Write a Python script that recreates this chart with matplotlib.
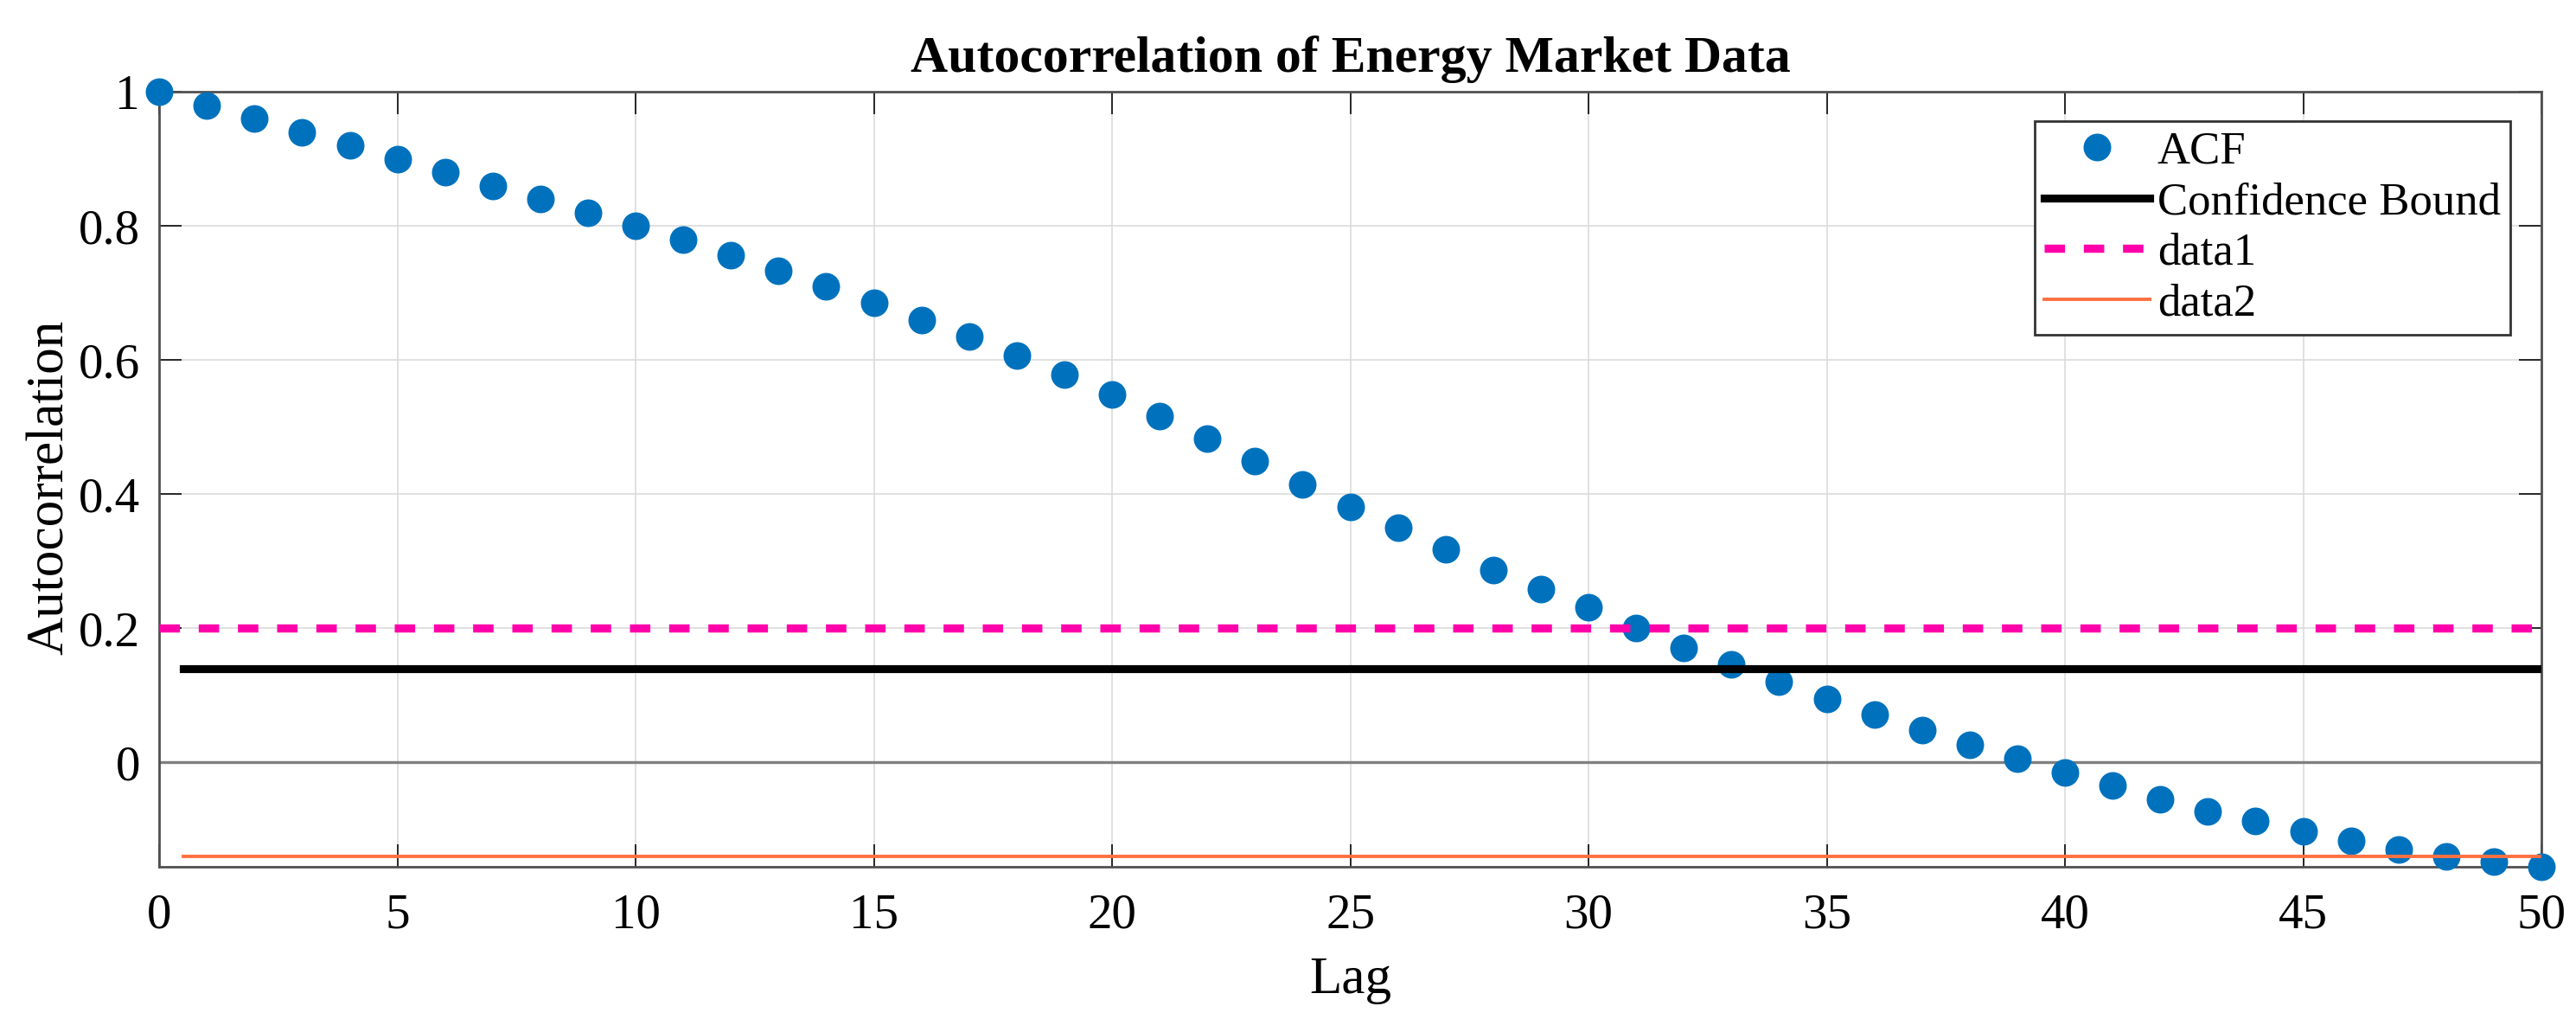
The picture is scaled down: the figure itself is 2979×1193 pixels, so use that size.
import numpy as np
import matplotlib
matplotlib.use("Agg")
import matplotlib.pyplot as plt
from matplotlib.ticker import FormatStrFormatter

# acf values
lags = np.arange(0, 51)
acf = [1.0, 0.98, 0.96, 0.94, 0.92, 0.90, 0.88, 0.86, 0.84, 0.82,
       0.80, 0.78, 0.757, 0.733, 0.71, 0.685, 0.66, 0.635, 0.607, 0.578,
       0.548, 0.517, 0.483, 0.449, 0.414, 0.381, 0.35, 0.318, 0.287, 0.258,
       0.231, 0.200, 0.171, 0.146, 0.120, 0.095, 0.071, 0.048, 0.026, 0.005,
       -0.015, -0.035, -0.055, -0.073, -0.088, -0.103, -0.117, -0.130, -0.140, -0.148,
       -0.156]

conf_x = [0.5, 50]
conf_bound = 0.14
data1_x = [0, 50]
data1_val = 0.2
data2_x = [0.5, 50]
data2_val = -0.14

xticks = np.arange(0, 51, 5)
yticks = [0, 0.2, 0.4, 0.6, 0.8, 1.0]

plt.rcParams['font.family'] = ['Liberation Serif', 'DejaVu Serif']

fig = plt.figure(figsize=(14.895, 5.965), dpi=200)
ax = fig.add_axes([0.0618, 0.160, 0.9248, 0.751])

ax.plot(lags, acf, 'o', color='#0072BD', markersize=10.5, label='ACF',
        clip_on=False, zorder=3)
ax.plot(conf_x, [conf_bound, conf_bound], '-', color='black', lw=3.3,
        label='Confidence Bound', zorder=4)
ax.plot(data1_x, [data1_val, data1_val], color='#FF00AA', lw=3.4,
        linestyle=(0, (2.5, 2.3)), label='data1', zorder=4)
ax.plot(data2_x, [data2_val, data2_val], '-', color='#FF7040', lw=1.4,
        label='data2', zorder=4)

# zero line
ax.axhline(0, color='#808080', lw=1.2, zorder=2)

ax.set_xlim(0, 50)
ax.set_ylim(-0.156, 1.0)
ax.set_xticks(xticks)
ax.set_yticks(yticks)
ax.yaxis.set_major_formatter(FormatStrFormatter('%g'))

ax.grid(True, color='#dcdcdc', lw=0.6, zorder=0)
ax.set_axisbelow(True)

ax.tick_params(direction='in', length=9.5, width=0.7, color='#262626',
               top=True, right=True, labelsize=20.5, labelcolor='black')
ax.tick_params(axis='x', pad=11)
ax.tick_params(axis='y', pad=8)
for s in ax.spines.values():
    s.set_color('#505050')
    s.set_linewidth(1.0)

ax.set_title('Autocorrelation of Energy Market Data', fontsize=21.5,
             fontweight='bold', pad=8.3)
ax.set_xlabel('Lag', fontsize=22, labelpad=7.5)
ax.set_ylabel('Autocorrelation', fontsize=22)
ax.yaxis.set_label_coords(-0.0356, 0.49)

leg = ax.legend(loc='upper right', bbox_to_anchor=(0.987, 0.962),
                borderaxespad=0, fontsize=19, numpoints=1, fancybox=False,
                framealpha=1, edgecolor='#333333', handlelength=2.3,
                handletextpad=0.17, labelspacing=0.2, borderpad=0.22)
leg.get_frame().set_linewidth(1.0)

fig.savefig('out.png', dpi=200)
